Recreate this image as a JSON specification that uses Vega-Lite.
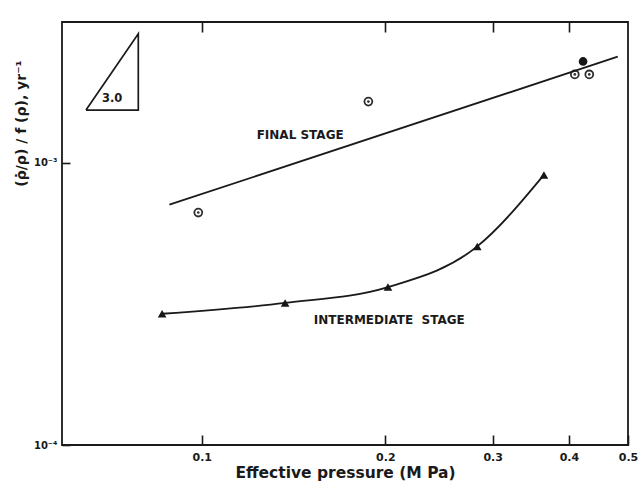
{
  "$schema": "https://vega.github.io/schema/vega-lite/v6.json",
  "autosize": {"type": "none"},
  "width": 566,
  "height": 423,
  "padding": {"left": 62, "top": 22, "right": 11, "bottom": 41},
  "background": "#ffffff",
  "config": {
    "view": {"stroke": "#1a1a1a", "strokeWidth": 1.8},
    "font": "DejaVu Sans",
    "axis": {
      "grid": false,
      "domain": false,
      "tickColor": "#1a1a1a",
      "tickWidth": 1.6,
      "labelColor": "#1a1a1a",
      "titleColor": "#1a1a1a",
      "labelFont": "DejaVu Sans",
      "labelFontWeight": "bold",
      "titleFont": "DejaVu Sans",
      "titleFontWeight": "bold"
    }
  },
  "datasets": {
    "final": [
      {"p": 0.0987, "r": 0.000667, "kind": "open"},
      {"p": 0.1876, "r": 0.00165, "kind": "open"},
      {"p": 0.422, "r": 0.00229, "kind": "filled"},
      {"p": 0.409, "r": 0.00206, "kind": "open"},
      {"p": 0.432, "r": 0.00206, "kind": "open"}
    ],
    "finalfit": [
      {"p": 0.0885, "r": 0.000711},
      {"p": 0.481, "r": 0.00238}
    ],
    "inter": [
      {"p": 0.0861, "r": 0.000292},
      {"p": 0.137, "r": 0.000319},
      {"p": 0.202, "r": 0.000363},
      {"p": 0.283, "r": 0.000506},
      {"p": 0.364, "r": 0.000907}
    ],
    "slope": [
      {"p": 0.0646, "r": 0.00154, "o": 1},
      {"p": 0.0787, "r": 0.00154, "o": 2},
      {"p": 0.0787, "r": 0.00287, "o": 3},
      {"p": 0.0646, "r": 0.00154, "o": 4}
    ],
    "labels": [
      {"p": 0.145, "r": 0.00126, "t": "FINAL STAGE", "s": 12},
      {"p": 0.203, "r": 0.000278, "t": "INTERMEDIATE\u00a0\u00a0STAGE", "s": 12},
      {"p": 0.0713, "r": 0.00169, "t": "3.0", "s": 11.5}
    ]
  },
  "resolve": {"axis": {"x": "independent", "y": "independent"}},
  "layer": [
    {
      "data": {"name": "final"},
      "transform": [{"filter": "datum.kind == 'open'"}],
      "mark": {"type": "point", "shape": "circle", "filled": false, "size": 62, "strokeWidth": 1.8, "color": "#2e2e2e", "opacity": 1},
      "encoding": {
        "x": {"field": "p", "type": "quantitative", "scale": {"type": "log", "domain": [0.059, 0.5], "nice": false},
          "axis": {"orient": "bottom", "values": [0.1, 0.2, 0.3, 0.4, 0.5], "format": ".1f", "tickSize": -10, "labelPadding": 16, "labelFontSize": 11, "labelFlush": false, "title": "Effective pressure (M Pa)", "titleFontSize": 15.5, "titlePadding": 3}},
        "y": {"field": "r", "type": "quantitative", "scale": {"type": "log", "domain": [0.0001, 0.00316], "nice": false},
          "axis": {"orient": "left", "values": [0.0001, 0.001], "labelExpr": "datum.value < 0.0005 ? '10⁻⁴' : '10⁻³'", "tickSize": -8, "labelPadding": 13, "labelFontSize": 10, "labelFlush": false, "title": "(ρ̇/ρ) / f (ρ), yr⁻¹", "titleFontSize": 14, "titleX": -41, "titleY": 101, "titleAngle": -90, "titleAlign": "center", "titleBaseline": "middle"}}
      }
    },
    {
      "data": {"name": "final"},
      "transform": [{"filter": "datum.kind == 'open'"}],
      "mark": {"type": "point", "shape": "circle", "filled": true, "size": 7, "color": "#2e2e2e", "opacity": 1},
      "encoding": {
        "x": {"field": "p", "type": "quantitative", "scale": {"type": "log", "domain": [0.059, 0.5], "nice": false}, "axis": null},
        "y": {"field": "r", "type": "quantitative", "scale": {"type": "log", "domain": [0.0001, 0.00316], "nice": false}, "axis": null}
      }
    },
    {
      "data": {"name": "final"},
      "transform": [{"filter": "datum.kind == 'filled'"}],
      "mark": {"type": "point", "shape": "circle", "filled": true, "size": 75, "color": "#161616", "opacity": 1},
      "encoding": {
        "x": {"field": "p", "type": "quantitative", "scale": {"type": "log", "domain": [0.059, 0.5], "nice": false}, "axis": null},
        "y": {"field": "r", "type": "quantitative", "scale": {"type": "log", "domain": [0.0001, 0.00316], "nice": false}, "axis": null}
      }
    },
    {
      "data": {"name": "finalfit"},
      "mark": {"type": "line", "color": "#1a1a1a", "strokeWidth": 1.8},
      "encoding": {
        "x": {"field": "p", "type": "quantitative", "scale": {"type": "log", "domain": [0.059, 0.5], "nice": false}, "axis": null},
        "y": {"field": "r", "type": "quantitative", "scale": {"type": "log", "domain": [0.0001, 0.00316], "nice": false}, "axis": null}
      }
    },
    {
      "data": {"name": "inter"},
      "mark": {"type": "line", "color": "#1a1a1a", "strokeWidth": 1.8, "interpolate": "monotone"},
      "encoding": {
        "x": {"field": "p", "type": "quantitative", "scale": {"type": "log", "domain": [0.059, 0.5], "nice": false}, "axis": null},
        "y": {"field": "r", "type": "quantitative", "scale": {"type": "log", "domain": [0.0001, 0.00316], "nice": false}, "axis": null}
      }
    },
    {
      "data": {"name": "inter"},
      "mark": {"type": "point", "shape": "triangle-up", "filled": true, "size": 75, "color": "#161616", "opacity": 1},
      "encoding": {
        "x": {"field": "p", "type": "quantitative", "scale": {"type": "log", "domain": [0.059, 0.5], "nice": false},
          "axis": {"orient": "top", "values": [0.1, 0.2, 0.3, 0.4], "labels": false, "tickSize": -10, "title": null}},
        "y": {"field": "r", "type": "quantitative", "scale": {"type": "log", "domain": [0.0001, 0.00316], "nice": false}, "axis": null}
      }
    },
    {
      "data": {"name": "slope"},
      "mark": {"type": "line", "color": "#1a1a1a", "strokeWidth": 1.7},
      "encoding": {
        "x": {"field": "p", "type": "quantitative", "scale": {"type": "log", "domain": [0.059, 0.5], "nice": false}, "axis": null},
        "y": {"field": "r", "type": "quantitative", "scale": {"type": "log", "domain": [0.0001, 0.00316], "nice": false}, "axis": null},
        "order": {"field": "o", "type": "quantitative"}
      }
    },
    {
      "data": {"name": "labels"},
      "mark": {"type": "text", "font": "DejaVu Sans", "fontWeight": "bold", "color": "#1a1a1a"},
      "encoding": {
        "x": {"field": "p", "type": "quantitative", "scale": {"type": "log", "domain": [0.059, 0.5], "nice": false}, "axis": null},
        "y": {"field": "r", "type": "quantitative", "scale": {"type": "log", "domain": [0.0001, 0.00316], "nice": false}, "axis": null},
        "text": {"field": "t"},
        "size": {"field": "s", "type": "quantitative", "scale": null}
      }
    }
  ]
}
